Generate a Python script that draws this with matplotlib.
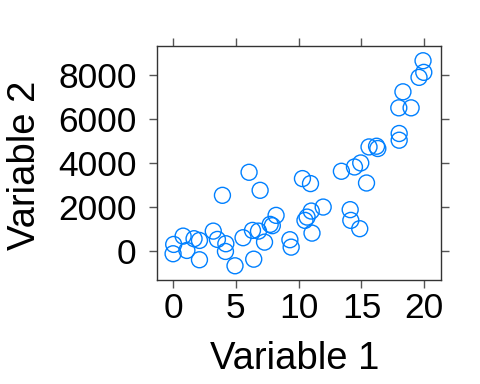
import matplotlib
matplotlib.use("Agg")

import matplotlib.pyplot as plt

# values
var1 = [0.0, 0.05, 0.8, 1.1, 1.67, 2.1, 2.1, 3.2, 3.53, 3.93,
        4.2, 4.17, 4.93, 5.57, 6.05, 6.42, 6.32, 6.93, 6.8, 7.28,
        7.73, 7.9, 8.2, 9.3, 9.4, 10.3, 10.94, 11.95, 11.0, 10.67,
        10.5, 11.06, 13.4, 14.1, 14.15, 14.86, 14.44, 14.94, 15.4, 15.6,
        16.2, 16.3, 18.0, 18.0, 17.97, 18.95, 18.3, 19.58, 19.96, 19.9]
var2 = [-118, 305, 682, 32, 564, 486, -391, 909, 532, 2532,
        336, -14, -664, 609, 3577, -364, 941, 2759, 909, 409,
        1214, 1155, 1623, 518, 182, 3291, 3064, 2000, 1818, 1545,
        1395, 818, 3623, 1882, 1395, 1018, 3818, 4000, 3091, 4727,
        4759, 4655, 5336, 5032, 6500, 6500, 7227, 7882, 8109, 8636]

x_ticks = [0, 5, 10, 15, 20]
y_ticks = [0, 2000, 4000, 6000, 8000]

plt.rcParams["font.family"] = ["Liberation Sans", "DejaVu Sans"]

fig = plt.figure(figsize=(4.8, 3.84), dpi=100)
ax = fig.add_axes([156.5 / 480, 1 - 279.5 / 384, (441 - 156.5) / 480, (279.5 - 46) / 384])

ax.scatter(var1, var2, s=132, facecolors="none", edgecolors="#0080ff", linewidths=1)

ax.set_xlim(-1.32, 21.33)
ax.set_ylim(-1286, 9305)
ax.set_xticks(x_ticks)
ax.set_yticks(y_ticks)

ax.tick_params(direction="out", length=5.8, width=1, color="#555555",
               labelsize=25.5,
               top=True, right=True, labeltop=False, labelright=False)
ax.tick_params(axis="x", pad=3)
ax.tick_params(axis="y", pad=8.5)
for sp in ax.spines.values():
    sp.set_color("#333333")
    sp.set_linewidth(1)

ax.set_xlabel("Variable 1", fontsize=27.5, va="baseline")
ax.xaxis.set_label_coords(0.486, -0.382)
ax.set_ylabel("Variable 2", fontsize=27.5, va="baseline")
ax.yaxis.set_label_coords(-0.428, 0.487)

plt.savefig("out.png", dpi=100)
plt.close()
